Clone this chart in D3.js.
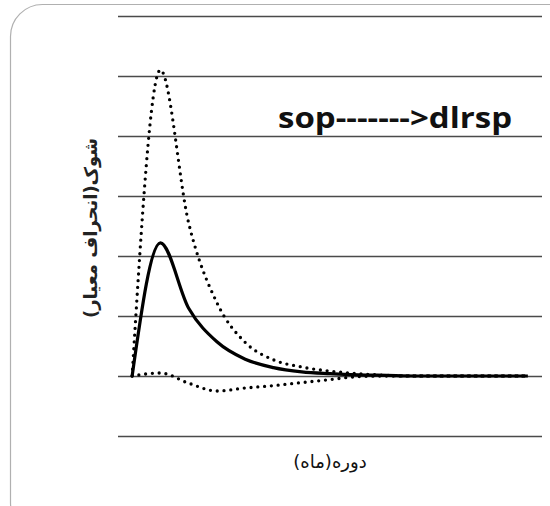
<!DOCTYPE html>
<html>
<head>
<meta charset="utf-8">
<script src="https://cdn.jsdelivr.net/npm/d3@7"></script>
<style>
	body { margin: 0; background: #fff; }
	svg { display: block; }
</style>
</head>
<body>
<svg id="chart" width="550" height="506"></svg>
<script>
// periods (months) 1..15
var periods = d3.range(1, 16);

// impulse response of dlrsp to a shock in sop
var response = [0, 0.0222, 0.0113, 0.0057, 0.0028, 0.0014, 0.0007, 0.0004, 0.0002, 0.0001, 0, 0, 0, 0, 0];
// upper and lower confidence bands
var upperBand = [0, 0.051, 0.0255, 0.0122, 0.0056, 0.0027, 0.0015, 0.0008, 0.0004, 0.0001, 0, 0, 0, 0, 0];
var lowerBand = [0, 0.0005, -0.0012, -0.0025, -0.002, -0.0016, -0.0011, -0.0006, -0.0001, 0, 0, 0, 0, 0, 0];

var yTicks = [-0.01, 0, 0.01, 0.02, 0.03, 0.04, 0.05, 0.06];

var title = "sop------->dlrsp";
var xTitle = "دوره(ماه)";
var yTitle = "شوک(انحراف معیار)";

var svg = d3.select("#chart");

// frame
svg.append("rect")
	.attr("x", 10.5)
	.attr("y", 4.5)
	.attr("width", 580)
	.attr("height", 530)
	.attr("rx", 32)
	.attr("fill", "none")
	.attr("stroke", "#b0b0b0")
	.attr("stroke-width", 1.2);

var plotLeft = 118, plotRight = 542, plotTop = 16, plotBottom = 436;

var x = d3.scaleBand()
	.domain(periods)
	.range([plotLeft, plotRight]);

var y = d3.scaleLinear()
	.domain([-0.01, 0.06])
	.range([plotBottom, plotTop]);

// gridlines from a y axis with no labels
var grid = svg.append("g")
	.attr("transform", "translate(" + plotLeft + ",0)")
	.call(d3.axisRight(y)
		.tickValues(yTicks)
		.tickSize(plotRight - plotLeft)
		.tickFormat(""));
grid.select(".domain").remove();
grid.selectAll("line")
	.attr("stroke", "#4a4a4a")
	.attr("stroke-width", 1.6);

var line = d3.line()
	.x(function (d, i) { return x(periods[i]) + x.bandwidth() / 2; })
	.y(function (d) { return y(d); })
	.curve(d3.curveMonotoneX);

function dotted(data) {
	svg.append("path")
		.datum(data)
		.attr("d", line)
		.attr("fill", "none")
		.attr("stroke", "#000")
		.attr("stroke-width", 3.3)
		.attr("stroke-linecap", "round")
		.attr("stroke-dasharray", "0 6.8");
}

dotted(upperBand);
dotted(lowerBand);

svg.append("path")
	.datum(response)
	.attr("d", line)
	.attr("fill", "none")
	.attr("stroke", "#000")
	.attr("stroke-width", 3.2)
	.attr("stroke-linejoin", "round");

// title
svg.append("text")
	.attr("x", 278)
	.attr("y", 128)
	.attr("textLength", 234)
	.attr("lengthAdjust", "spacingAndGlyphs")
	.attr("font-family", "'Open Sans', 'Liberation Sans', sans-serif")
	.attr("font-weight", "bold")
	.attr("font-size", 29)
	.attr("fill", "#111")
	.text(title);

// axis titles
svg.append("text")
	.attr("x", (plotLeft + plotRight) / 2)
	.attr("y", 468)
	.attr("text-anchor", "middle")
	.attr("direction", "rtl")
	.attr("font-family", "'DejaVu Sans', sans-serif")
	.attr("font-size", 18)
	.attr("fill", "#111")
	.text(xTitle);

svg.append("text")
	.attr("transform", "translate(97,228) rotate(-90)")
	.attr("text-anchor", "middle")
	.attr("direction", "rtl")
	.attr("font-family", "'DejaVu Sans', sans-serif")
	.attr("font-weight", "bold")
	.attr("font-size", 18)
	.attr("fill", "#222")
	.text(yTitle);
</script>
</body>
</html>
